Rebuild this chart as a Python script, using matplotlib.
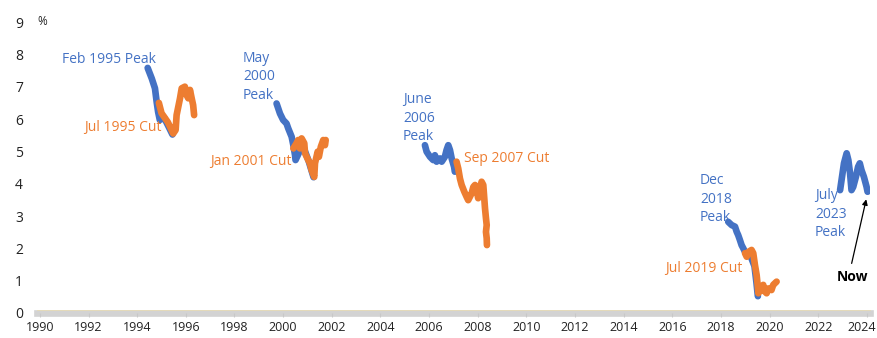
import matplotlib
matplotlib.use("Agg")
import matplotlib.pyplot as plt
from matplotlib.transforms import ScaledTranslation

plt.rcParams['font.family'] = ['Open Sans', 'DejaVu Sans']

BLUE = '#4472c4'
ORANGE = '#ed7d31'

# US 10y yield around each Fed cycle: blue from the peak, orange after the first cut
p95_x = [1994.43, 1994.60, 1994.73, 1994.80, 1994.86, 1994.93, 1995.10, 1995.30, 1995.45]
p95_y = [7.58, 7.25, 6.95, 6.53, 6.22, 5.97, 6.05, 5.75, 5.52]
c95_x = [1994.89, 1995.00, 1995.14, 1995.26, 1995.35, 1995.48, 1995.58, 1995.62, 1995.76,
         1995.83, 1995.96, 1996.03, 1996.10, 1996.17, 1996.24, 1996.30, 1996.34]
c95_y = [6.50, 6.18, 6.03, 5.90, 5.76, 5.55, 5.66, 6.12, 6.64,
         6.95, 7.00, 6.74, 6.64, 6.90, 6.64, 6.43, 6.12]

p00_x = [1999.73, 1999.87, 2000.00, 2000.14, 2000.21, 2000.35, 2000.42, 2000.49, 2000.51,
         2000.80, 2001.05, 2001.25]
p00_y = [6.48, 6.17, 5.97, 5.86, 5.71, 5.45, 5.19, 4.88, 4.73, 5.20, 4.70, 4.20]
c00_x = [2000.42, 2000.55, 2000.62, 2000.69, 2000.76, 2000.87, 2000.90, 2001.00, 2001.10,
         2001.17, 2001.28, 2001.31, 2001.42, 2001.47, 2001.55, 2001.65, 2001.72, 2001.75]
c00_y = [5.09, 5.25, 5.35, 5.09, 5.40, 5.25, 4.94, 4.78, 4.63,
         4.42, 4.21, 4.63, 4.99, 4.83, 5.14, 5.35, 5.19, 5.35]

p06_x = [2005.83, 2005.90, 2006.04, 2006.17, 2006.24, 2006.31, 2006.45, 2006.52, 2006.65,
         2006.72, 2006.79, 2006.86, 2006.93, 2007.03, 2007.06]
p06_y = [5.19, 4.99, 4.83, 4.73, 4.88, 4.68, 4.78, 4.68, 4.83,
         5.04, 5.19, 5.04, 4.78, 4.52, 4.37]
c07_x = [2007.13, 2007.20, 2007.27, 2007.34, 2007.45, 2007.54, 2007.61, 2007.75, 2007.82,
         2007.89, 2007.96, 2008.02, 2008.09, 2008.16, 2008.23, 2008.27, 2008.30, 2008.34,
         2008.37, 2008.34, 2008.37, 2008.38]
c07_y = [4.68, 4.47, 4.16, 3.96, 3.75, 3.60, 3.49, 3.70, 3.90,
         3.96, 3.80, 3.55, 3.80, 4.06, 3.96, 3.55, 3.24, 2.93,
         2.72, 2.51, 2.31, 2.10]

p18_x = [2018.30, 2018.44, 2018.58, 2018.65, 2018.71, 2018.78, 2018.85, 2018.92, 2018.99,
         2019.20, 2019.38, 2019.46, 2019.52]
p18_y = [2.82, 2.72, 2.67, 2.51, 2.41, 2.26, 2.10, 2.00, 1.89, 1.80, 1.45, 0.95, 0.52]
c19_x = [2018.99, 2019.06, 2019.13, 2019.26, 2019.33, 2019.40, 2019.47, 2019.51, 2019.54,
         2019.67, 2019.74, 2019.81, 2019.88, 2019.95, 2020.08, 2020.15, 2020.22, 2020.29]
c19_y = [1.85, 1.74, 1.89, 1.95, 1.85, 1.48, 1.17, 0.87, 0.61,
         0.76, 0.87, 0.66, 0.61, 0.76, 0.71, 0.87, 0.92, 0.97]

p23_x = [2022.90, 2022.96, 2023.06, 2023.17, 2023.24, 2023.31, 2023.37, 2023.44, 2023.55,
         2023.64, 2023.71, 2023.78, 2023.88, 2023.99, 2024.03]
p23_y = [3.80, 4.11, 4.63, 4.94, 4.73, 4.32, 3.80, 3.90, 4.21,
         4.52, 4.63, 4.42, 4.21, 3.90, 3.75]

year_ticks = list(range(1990, 2025, 2))
pct_ticks = list(range(0, 10))

fig = plt.figure(figsize=(8.78, 3.38), dpi=100)
ax = fig.add_axes([37 / 878, 25 / 338, 833 / 878, 291 / 338])

line_kw = dict(lw=4.8, solid_capstyle='round', solid_joinstyle='round', zorder=3)
for bx, by in [(p95_x, p95_y), (p00_x, p00_y), (p06_x, p06_y), (p18_x, p18_y), (p23_x, p23_y)]:
    ax.plot(bx, by, color=BLUE, **line_kw)
for ox, oy in [(c95_x, c95_y), (c00_x, c00_y), (c07_x, c07_y), (c19_x, c19_y)]:
    ax.plot(ox, oy, color=ORANGE, **line_kw)

# zero axis drawn as a grey band with a thin sand-coloured edge
ax.axhline(0, color='#d3d3d3', lw=4.8, zorder=1, clip_on=False)
ax.axhline(0.09, color='#e6dab4', lw=0.6, zorder=2, clip_on=False)

ax.set_xlim(1989.88, 2024.13)
ax.set_ylim(0, 9)
ax.set_xticks(year_ticks)
ax.set_yticks(pct_ticks)
ax.tick_params(axis='x', length=3, color='#c8c8c8', pad=3, labelsize=9, labelcolor='#222222')
ax.tick_params(axis='y', length=0, pad=10, labelsize=10, labelcolor='#222222')
for s in ax.spines.values():
    s.set_visible(False)

# pull the last year label in a little so it stays inside the figure
last = ax.get_xticklabels()[-1]
last.set_transform(last.get_transform() + ScaledTranslation(-5 / 100, 0, fig.dpi_scale_trans))

ax.text(1989.88, 9.02, '%', fontsize=8.5, color='#222222', va='center', ha='left')

fs = 10
ax.text(1990.90, 7.85, 'Feb 1995 Peak', color=BLUE, fontsize=fs, va='center', ha='left')
ax.text(1995.02, 5.75, 'Jul 1995 Cut', color=ORANGE, fontsize=fs, va='center', ha='right')
ax.text(1998.35, 7.30, 'May\n2000\nPeak', color=BLUE, fontsize=fs, va='center', ha='left',
        linespacing=1.3)
ax.text(2000.36, 4.70, 'Jan 2001 Cut', color=ORANGE, fontsize=fs, va='center', ha='right')
ax.text(2004.93, 6.03, 'June\n2006\nPeak', color=BLUE, fontsize=fs, va='center', ha='left',
        linespacing=1.3)
ax.text(2007.43, 4.79, 'Sep 2007 Cut', color=ORANGE, fontsize=fs, va='center', ha='left')
ax.text(2017.14, 3.52, 'Dec\n2018\nPeak', color=BLUE, fontsize=fs, va='center', ha='left',
        linespacing=1.3)
ax.text(2018.87, 1.39, 'Jul 2019 Cut', color=ORANGE, fontsize=fs, va='center', ha='right')
ax.text(2021.87, 3.06, 'July\n2023\nPeak', color=BLUE, fontsize=fs, va='center', ha='left',
        linespacing=1.3)
ax.text(2023.39, 1.11, 'Now', color='black', fontsize=fs, fontweight='bold', va='center',
        ha='center')
ax.annotate('', xy=(p23_x[-1] - 0.03, p23_y[-1] - 0.15), xytext=(2023.35, 1.45),
            arrowprops=dict(arrowstyle='-|>', color='black', lw=0.9, mutation_scale=8))

fig.savefig('out.png', dpi=100)
